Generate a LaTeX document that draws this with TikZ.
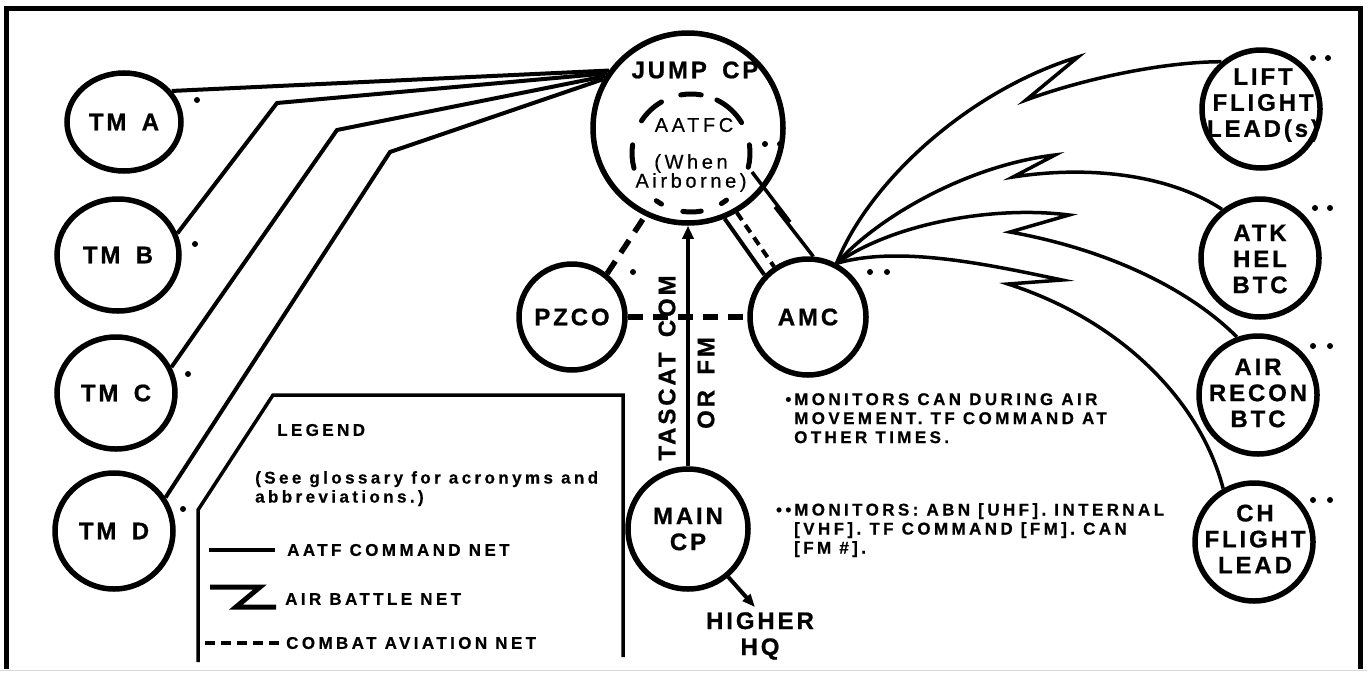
\documentclass[tikz,border=0pt]{standalone}
\usepackage{fontspec}
\setmainfont{Liberation Sans}
\newfontfamily\callfont[LetterSpace=12,FakeBold=0.8,WordSpace=1.6]{Liberation Sans}
\newfontfamily\notefont[LetterSpace=20,FakeBold=0.6]{Liberation Sans}
\newfontfamily\airfont[LetterSpace=18,FakeBold=0.5]{Liberation Sans}
\usetikzlibrary{shapes.geometric,arrows.meta}

\begin{document}
\begin{tikzpicture}[x=1pt,y=1pt,
    unit/.style={circle,draw,line width=5.5pt,inner sep=0pt,align=center,
      font=\callfont\bfseries\fontsize{24}{26}\selectfont},
    team/.style={ellipse,draw,line width=5.5pt,inner sep=0pt,
      font=\callfont\bfseries\fontsize{24}{26}\selectfont},
    call/.style={inner sep=0pt,align=center,font=\callfont\bfseries\fontsize{24}{26}\selectfont},
    airtext/.style={inner sep=0pt,align=center,font=\airfont\fontsize{20}{19}\selectfont},
    note/.style={inner sep=0pt,align=left,font=\notefont\bfseries\fontsize{17}{19}\selectfont},
    cmdnet/.style={line width=4pt},
    battlenet/.style={line width=3.5pt,line join=miter},
    avnnet/.style={line width=5.5pt,dash pattern=on 15pt off 10pt}]

    \useasboundingbox (0,0) rectangle (1367,-672);

    % frame
    \draw[line width=5pt] (6,-669) -- (6,-8) -- (1360,-8) -- (1360,-669);
    \draw[black!15,line width=1.5pt] (0,-670.5) -- (1367,-670.5);

    % teams
    \node[team,minimum width=114pt,minimum height=98pt] (tma) at (124,-122) {TM A};
    \node[team,minimum width=122pt,minimum height=112pt] (tmb) at (118,-255) {TM B};
    \node[team,minimum width=118pt,minimum height=112pt] (tmc) at (116,-393) {TM C};
    \node[team,minimum width=118pt,minimum height=116pt] (tmd) at (114,-531) {TM D};

    % command posts
    \node[unit,minimum size=190pt] (jump) at (688,-128) {};
    \node[call] (jumplbl) at (695,-70) {JUMP CP};
    \node[airtext] (aatfc) at (694,-125) {AATFC};
    \node[airtext] (whenlbl) at (691,-173) {(When\\Airborne)};
    \node[unit,minimum size=106pt] (pzco) at (572,-317) {PZCO};
    \node[unit,minimum size=116pt] (amc) at (808,-317) {AMC};
    \node[unit,minimum size=120pt] (main) at (688,-529) {MAIN\\CP};
    \node[call,inner sep=5pt] (hq) at (760,-636) {HIGHER\\HQ};

    % flights
    \node[unit,minimum size=118pt] (lift) at (1261,-109) {};
    \node[call] (liftlbl) at (1263,-105) {LIFT\\FLIGHT\\LEAD(s)};
    \node[unit,minimum size=118pt] (atk) at (1260,-258) {};
    \node[call] (atklbl) at (1260,-259) {ATK\\HEL\\BTC};
    \node[unit,minimum size=118pt] (air) at (1258,-395) {};
    \node[call] (airlbl) at (1258,-393) {AIR\\RECON\\BTC};
    \node[unit,minimum size=118pt] (ch) at (1254,-542) {};
    \node[call] (chlbl) at (1255,-539) {CH\\FLIGHT\\LEAD};

    % AATFC inside jump cp
    \foreach \a/\b in {80/100,120/147,31/64,172/195,-14/8,234/240,-59/-53,-98/-80}
      \draw[line width=5pt,line cap=round] ([shift={(\a:59)}]691,-153) arc[start angle=\a,end angle=\b,radius=59];
    \coordinate (oval) at (752,-172);

    % AATF command net
    \coordinate (bendb) at (277,-103);
    \coordinate (bendc) at (337,-130);
    \coordinate (bendd) at (390,-152);
    \draw[cmdnet] (tma.33) -- (jump.144);
    \draw[cmdnet] (tmb.20) -- (bendb) -- (jump.146);
    \draw[cmdnet] (tmc.25) -- (bendc) -- (jump.148);
    \draw[cmdnet] (tmd.33) -- (bendd) -- (jump.150);
    \draw[cmdnet] (jump.-68) -- (amc.136);
    \draw[cmdnet,-{Triangle[length=13pt,width=11pt]}] (main.north) -- (jump.south);
    \draw[cmdnet,-{Triangle[length=13pt,width=10pt]}] (main.-50) -- ([xshift=-5pt]hq.north);

    % combat aviation net
    \draw[avnnet] (pzco.51) -- (jump.-116);
    \draw[avnnet] (pzco.east) -- (amc.west);
    \draw[line width=4pt,dash pattern=on 9pt off 6pt] (jump.-60) -- (amc.124);

    % air battle net
    \draw[battlenet] (oval) -- (790,-222) -- (775,-207) -- (amc.85);
    \draw[battlenet] (amc.62) .. controls (870,-180) and (970,-90) .. (1078,-57)
      -- (1026,-100) .. controls (1080,-80) and (1160,-62) .. (lift.130);
    \draw[battlenet] (amc.62) .. controls (880,-215) and (970,-165) .. (1055,-155)
      -- (1013,-177) .. controls (1090,-165) and (1170,-175) .. (atk.128);
    \draw[battlenet] (amc.62) .. controls (890,-225) and (990,-205) .. (1069,-215)
      -- (1010,-232) .. controls (1110,-250) and (1190,-290) .. (air.110);
    \draw[battlenet] (amc.62) .. controls (900,-245) and (990,-265) .. (1062,-280)
      -- (1008,-284) .. controls (1120,-320) and (1200,-400) .. (ch.120);

    \node[call,rotate=90] (tascat) at (667,-368) {TASCAT COM};
    \node[call,rotate=90] (orfm) at (706,-383) {OR FM};

    % monitor marks
    \foreach \x/\y in {197/-100,195/-244,188/-374,183/-509,633/-272,
      765/-144,780/-144,870/-272,887/-272,1313/-58,1328/-58,1315/-208,1330/-208,
      1313/-346,1330/-346,1313/-500,1330/-500}
      \fill (\x,\y) circle (3);

    \node[note,anchor=north west] (note1) at (794,-393) {\llap{•\,}MONITORS CAN DURING AIR\\MOVEMENT. TF COMMAND AT\\OTHER TIMES.};
    \node[note,anchor=north west] (note2) at (794,-503) {\llap{••\,}MONITORS: ABN [UHF]. INTERNAL\\{}[VHF]. TF COMMAND [FM]. CAN\\{}[FM \#].};

    % legend
    \draw[line width=3.5pt] (198,-662) -- (198,-510) -- (273,-395) -- (623,-395) -- (623,-657);
    \node[note,anchor=west] (legendlbl) at (277,-430) {LEGEND};
    \node[note,anchor=north west] (glossary) at (255,-471) {(See glossary for acronyms and\\abbreviations.)};
    \draw[line width=4pt] (209,-550) -- (275,-550);
    \node[note,anchor=west] (cmdlbl) at (287,-550) {AATF COMMAND NET};
    \draw[line width=5pt] (210,-587) -- (260,-587) -- (236,-607) -- (276,-607);
    \node[note,anchor=west] (battlelbl) at (285,-599) {AIR BATTLE NET};
    \draw[line width=4pt,dash pattern=on 10pt off 6pt] (205,-643) -- (279,-643);
    \node[note,anchor=west] (avnlbl) at (286,-643) {COMBAT AVIATION NET};
\end{tikzpicture}
\end{document}
